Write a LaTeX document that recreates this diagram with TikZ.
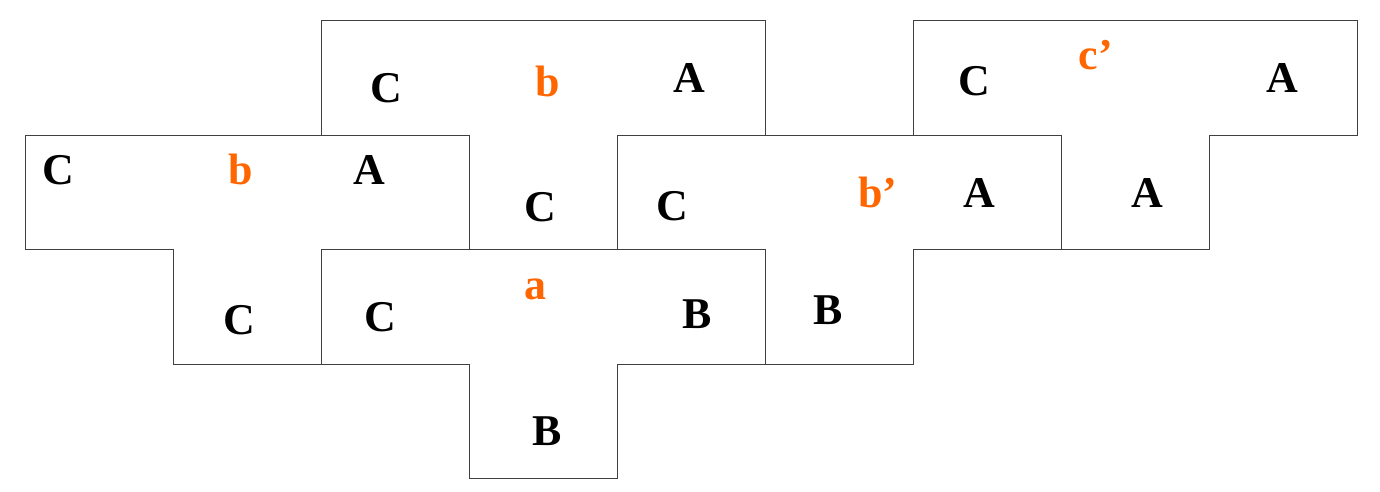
\documentclass[tikz,border=0pt]{standalone}
\usepackage{fontspec}
\setmainfont{Liberation Serif}
\usepackage{xcolor}
\definecolor{varorange}{HTML}{FF6600}

\begin{document}
\begin{tikzpicture}[x=2.962cm, y=2.29cm,
    piece/.style={line width=0.6pt, black!75},
    lbl/.style={font=\fontsize{25}{30}\selectfont\bfseries, inner sep=0pt},
    var/.style={lbl, text=varorange}]
    \useasboundingbox (-0.169,-0.1135) rectangle (9.149,4.183);

    % Top middle piece
    \draw[piece] (2,4) -- (5,4) -- (5,3) -- (4,3) -- (4,2) -- (3,2) -- (3,3) -- (2,3) -- cycle;
    % Left piece
    \draw[piece] (0,3) -- (3,3) -- (3,2) -- (2,2) -- (2,1) -- (1,1) -- (1,2) -- (0,2) -- cycle;
    % Bottom middle piece
    \draw[piece] (2,2) -- (5,2) -- (5,1) -- (4,1) -- (4,0) -- (3,0) -- (3,1) -- (2,1) -- cycle;
    % Right middle piece
    \draw[piece] (4,3) -- (7,3) -- (7,2) -- (6,2) -- (6,1) -- (5,1) -- (5,2) -- (4,2) -- cycle;
    % Top right piece
    \draw[piece] (6,4) -- (9,4) -- (9,3) -- (8,3) -- (8,2) -- (7,2) -- (7,3) -- (6,3) -- cycle;

    % Labels, left piece
    \node[lbl] (left-c) at (0.226,2.699) {C};
    \node[var] (left-b) at (1.457,2.699) {b};
    \node[lbl] (left-a) at (2.324,2.699) {A};
    \node[lbl] (left-stem) at (1.450,1.389) {C};

    % Labels, top middle piece
    \node[lbl] (top-c) at (2.442,3.409) {C};
    \node[var] (top-b) at (3.529,3.470) {b};
    \node[lbl] (top-a) at (4.483,3.500) {A};
    \node[lbl] (top-stem) at (3.477,2.378) {C};

    % Labels, bottom middle piece
    \node[lbl] (bot-c) at (2.397,1.417) {C};
    \node[var] (bot-a) at (3.446,1.658) {a};
    \node[lbl] (bot-b) at (4.535,1.443) {B};
    \node[lbl] (bot-stem) at (3.525,0.417) {B};

    % Labels, right middle piece
    \node[lbl] (mid-c) at (4.369,2.386) {C};
    \node[var] (mid-b) at (5.760,2.502) {b’};
    \node[lbl] (mid-a) at (6.444,2.500) {A};
    \node[lbl] (mid-stem) at (5.424,1.476) {B};

    % Labels, top right piece
    \node[lbl] (right-c) at (6.408,3.478) {C};
    \node[var] (right-c2) at (7.229,3.703) {c’};
    \node[lbl] (right-a) at (8.488,3.502) {A};
    \node[lbl] (right-stem) at (7.576,2.498) {A};
\end{tikzpicture}
\end{document}
